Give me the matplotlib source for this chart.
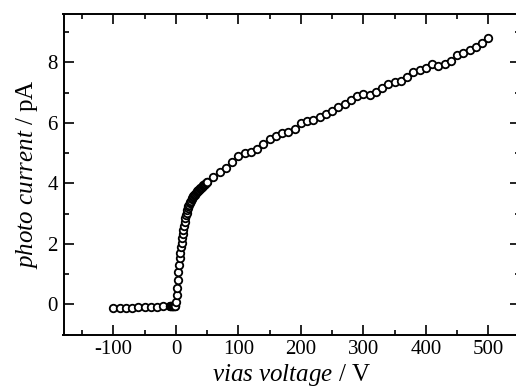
import matplotlib
matplotlib.use("Agg")
import matplotlib.pyplot as plt
from matplotlib.ticker import MultipleLocator

plt.rcParams['font.family'] = ['Liberation Serif', 'DejaVu Serif']
plt.rcParams['mathtext.fontset'] = 'custom'
plt.rcParams['mathtext.rm'] = 'Liberation Serif'
plt.rcParams['mathtext.it'] = 'Liberation Serif:italic'
plt.rcParams['axes.unicode_minus'] = False

# reverse bias, coarse steps
v_neg = [-100, -90, -80, -70, -60, -50, -40, -30, -20]
i_neg = [-0.12, -0.12, -0.11, -0.11, -0.10, -0.10, -0.09, -0.08, -0.07]

# fine steps around the onset (1 V)
v_fine = list(range(-10, 50))
i_fine = [-0.07, -0.07, -0.07, -0.06, -0.06, -0.06, -0.06, -0.05, -0.05, -0.04,
          0.09, 0.31, 0.53, 0.80, 1.07, 1.30, 1.52, 1.71, 1.88, 2.04,
          2.18, 2.31, 2.45, 2.59, 2.73, 2.84, 2.94, 3.03, 3.11, 3.18,
          3.24, 3.29, 3.34, 3.39, 3.43, 3.47, 3.51, 3.54, 3.57, 3.60,
          3.63, 3.66, 3.69, 3.71, 3.73, 3.75, 3.77, 3.79, 3.81, 3.83,
          3.85, 3.87, 3.89, 3.91, 3.93, 3.95, 3.97, 3.99, 4.01, 4.03]

# forward bias, coarse steps (10 V)
v_pos = list(range(50, 501, 10))
i_pos = [4.05, 4.22, 4.38, 4.52, 4.69, 4.90, 4.99, 5.04, 5.13, 5.30,
         5.45, 5.58, 5.67, 5.69, 5.81, 5.98, 6.07, 6.10, 6.18, 6.29,
         6.39, 6.51, 6.63, 6.75, 6.90, 6.94, 6.93, 7.03, 7.14, 7.27,
         7.35, 7.38, 7.51, 7.68, 7.74, 7.82, 7.93, 7.88, 7.94, 8.05,
         8.23, 8.32, 8.41, 8.52, 8.63, 8.79]

voltage = v_neg + v_fine + v_pos
current = i_neg + i_fine + i_pos

fig = plt.figure(figsize=(5.16, 3.92), dpi=100)
# right spine sits just outside the picture, as in the original crop
ax = fig.add_axes([63.5 / 516, 1 - 334.6 / 392, 456 / 516, 320.7 / 392])

ax.plot(voltage, current, linestyle='none', marker='o', markersize=5.4,
        markerfacecolor='white', markeredgecolor='black', markeredgewidth=1.3)

ax.set_xlim(-180, 550)
ax.set_ylim(-1, 9.6)
ax.xaxis.set_major_locator(MultipleLocator(100))
ax.xaxis.set_minor_locator(MultipleLocator(50))
ax.yaxis.set_major_locator(MultipleLocator(2))
ax.yaxis.set_minor_locator(MultipleLocator(1))

ax.tick_params(which='both', direction='in', top=True, right=True, width=1.2,
               labelsize=15, pad=4)
ax.tick_params(which='major', length=7.5)
ax.tick_params(which='minor', length=3.5)
for s in ax.spines.values():
    s.set_linewidth(1.4)

ax.set_xlabel(r'$vias\ voltage$ / V', fontsize=18, labelpad=2)
ax.set_ylabel(r'$photo\ current$ / pA', fontsize=18, labelpad=5)

fig.savefig('out.png', dpi=100)
